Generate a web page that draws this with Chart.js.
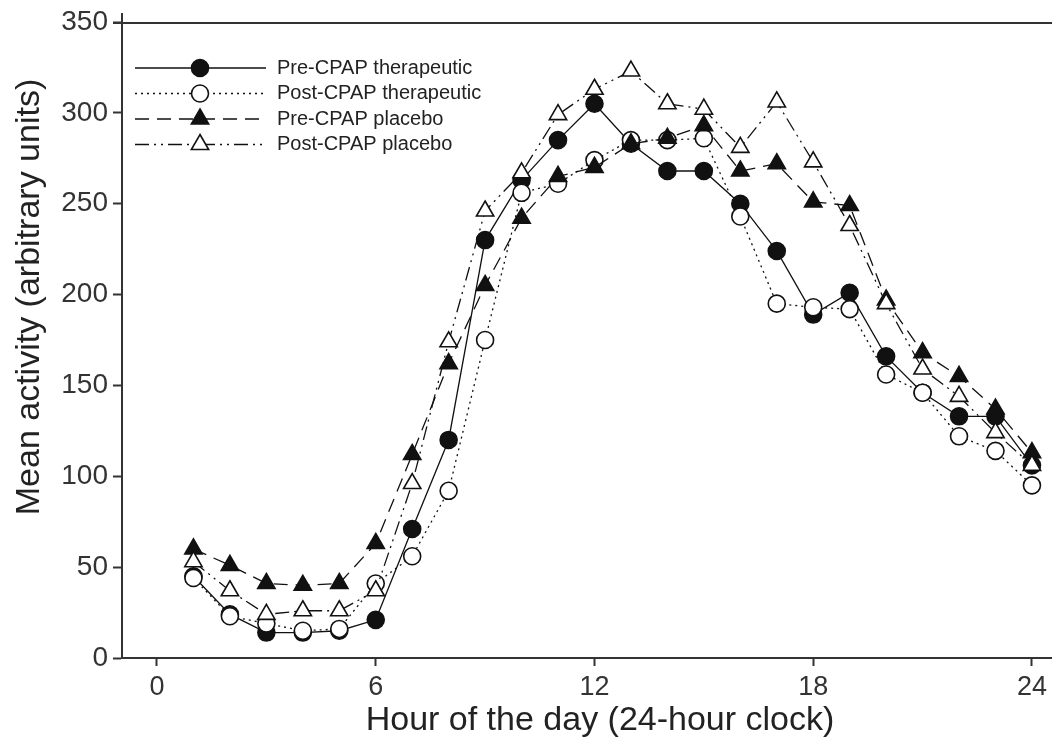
<!DOCTYPE html>
<html>
<head>
<meta charset="utf-8">
<script src="https://cdn.jsdelivr.net/npm/chart.js@4"></script>
<style>
  html, body { margin: 0; padding: 0; background: #fff; overflow: hidden; }
  #wrap { width: 1052px; height: 743px; }
  canvas { display: block; }
</style>
</head>
<body>
<div id="wrap"><canvas id="c" width="1052" height="743"></canvas></div>
<script>
// heures de la journée
const hours = [1, 2, 3, 4, 5, 6, 7, 8, 9, 10, 11, 12, 13, 14, 15, 16, 17, 18, 19, 20, 21, 22, 23, 24];

// activité moyenne par groupe
const preTherapeutic  = [45, 24, 14, 14, 15, 21, 71, 120, 230, 263, 285, 305, 283, 268, 268, 250, 224, 189, 201, 166, 146, 133, 133, 106];
const postTherapeutic = [44, 23, 19, 15, 16, 41, 56, 92, 175, 256, 261, 274, 285, 285, 286, 243, 195, 193, 192, 156, 146, 122, 114, 95];
const prePlacebo      = [60, 51, 41, 40, 41, 63, 112, 162, 205, 242, 265, 270, 283, 286, 293, 268, 272, 251, 249, 197, 168, 155, 137, 113];
const postPlacebo     = [53, 37, 24, 26, 26, 37, 96, 174, 246, 267, 299, 313, 323, 305, 302, 281, 306, 273, 238, 195, 159, 144, 124, 106];

const xTicks = [0, 6, 12, 18, 24];
const yTicks = [0, 50, 100, 150, 200, 250, 300, 350];

const xTitle = 'Hour of the day (24-hour clock)';
const yTitle = 'Mean activity (arbitrary units)';

const INK = '#111';
const FONT = '"Liberation Sans", Arial, sans-serif';

// order : la dernière série passe au-dessus des autres
function serie(label, values, style, filled, dash, order) {
  return {
    label: label,
    data: hours.map((h, i) => ({ x: h, y: values[i] })),
    order: order,
    borderColor: INK,
    borderWidth: 1.3,
    borderDash: dash,
    pointStyle: style,
    pointRadius: style === 'triangle' ? 10 : 8.5,
    pointBorderWidth: 1.6,
    pointBorderColor: INK,
    pointBackgroundColor: filled ? INK : '#fff',
    tension: 0,
    fill: false,
    clip: false
  };
}

// ligne du haut, titres des axes et légende
const cadre = {
  id: 'cadre',
  afterDraw(chart) {
    const ctx = chart.ctx;
    const a = chart.chartArea;
    ctx.save();
    ctx.strokeStyle = '#333';
    ctx.lineWidth = 2;
    ctx.beginPath();
    ctx.moveTo(a.left - 9, a.top + 1);
    ctx.lineTo(a.right, a.top + 1);
    ctx.moveTo(a.left, a.top + 1);
    ctx.lineTo(a.left, a.top - 9);
    ctx.stroke();

    // titres
    ctx.fillStyle = '#222';
    ctx.font = '34px ' + FONT;
    ctx.textAlign = 'center';
    ctx.textBaseline = 'middle';
    ctx.fillText(xTitle, 600, 721);
    ctx.save();
    ctx.translate(30, 297);
    ctx.rotate(-Math.PI / 2);
    ctx.fillText(yTitle, 0, 0);
    ctx.restore();

    // légende
    ctx.textAlign = 'left';
    const x0 = 135, x1 = 266, cx = 200, y0 = 68, step = 25.5;
    chart.data.datasets.forEach((ds, i) => {
      const y = y0 + i * step;
      ctx.strokeStyle = INK;
      ctx.lineWidth = ds.borderWidth;
      ctx.setLineDash(ds.borderDash || []);
      ctx.beginPath();
      ctx.moveTo(x0, y);
      ctx.lineTo(x1, y);
      ctx.stroke();
      ctx.setLineDash([]);
      ctx.fillStyle = ds.pointBackgroundColor;
      ctx.lineWidth = ds.pointBorderWidth;
      ctx.beginPath();
      const r = ds.pointRadius;
      if (ds.pointStyle === 'circle') {
        ctx.arc(cx, y, r, 0, Math.PI * 2);
      } else {
        ctx.moveTo(cx, y - r);
        ctx.lineTo(cx + r * 0.866, y + r * 0.5);
        ctx.lineTo(cx - r * 0.866, y + r * 0.5);
        ctx.closePath();
      }
      ctx.fill();
      ctx.stroke();
      ctx.fillStyle = '#222';
      ctx.font = '20px ' + FONT;
      ctx.fillText(ds.label, 277, y);
    });
    ctx.restore();
  }
};

new Chart(document.getElementById('c'), {
  type: 'line',
  data: {
    datasets: [
      serie('Pre-CPAP therapeutic', preTherapeutic, 'circle', true, [], 4),
      serie('Post-CPAP therapeutic', postTherapeutic, 'circle', false, [2, 4], 3),
      serie('Pre-CPAP placebo', prePlacebo, 'triangle', true, [14, 8], 2),
      serie('Post-CPAP placebo', postPlacebo, 'triangle', false, [14, 5, 2, 5, 2, 5], 1)
    ]
  },
  options: {
    responsive: false,
    animation: false,
    layout: { autoPadding: false, padding: { top: 22, right: 0, left: 0, bottom: 0 } },
    plugins: { legend: { display: false }, tooltip: { enabled: false } },
    elements: { line: { borderCapStyle: 'butt' } },
    scales: {
      x: {
        type: 'linear',
        min: -0.96,
        max: 24.55,
        afterBuildTicks: s => { s.ticks = xTicks.map(v => ({ value: v })); },
        afterFit: s => { s.height = 85; s.paddingLeft = 0; s.paddingRight = 0; },
        grid: { drawOnChartArea: false, tickLength: 8, tickColor: '#333', tickWidth: 2 },
        border: { color: '#333', width: 2 },
        ticks: { color: '#333', padding: 5, font: { size: 27, family: FONT } }
      },
      y: {
        min: 0,
        max: 350,
        afterBuildTicks: s => { s.ticks = yTicks.map(v => ({ value: v })); },
        afterFit: s => { s.width = 122; },
        grid: { drawOnChartArea: false, tickLength: 9, tickColor: '#333', tickWidth: 2 },
        border: { color: '#333', width: 2 },
        ticks: { color: '#333', padding: 5, font: { size: 28, family: FONT } }
      }
    }
  },
  plugins: [cadre]
});
</script>
</body>
</html>
